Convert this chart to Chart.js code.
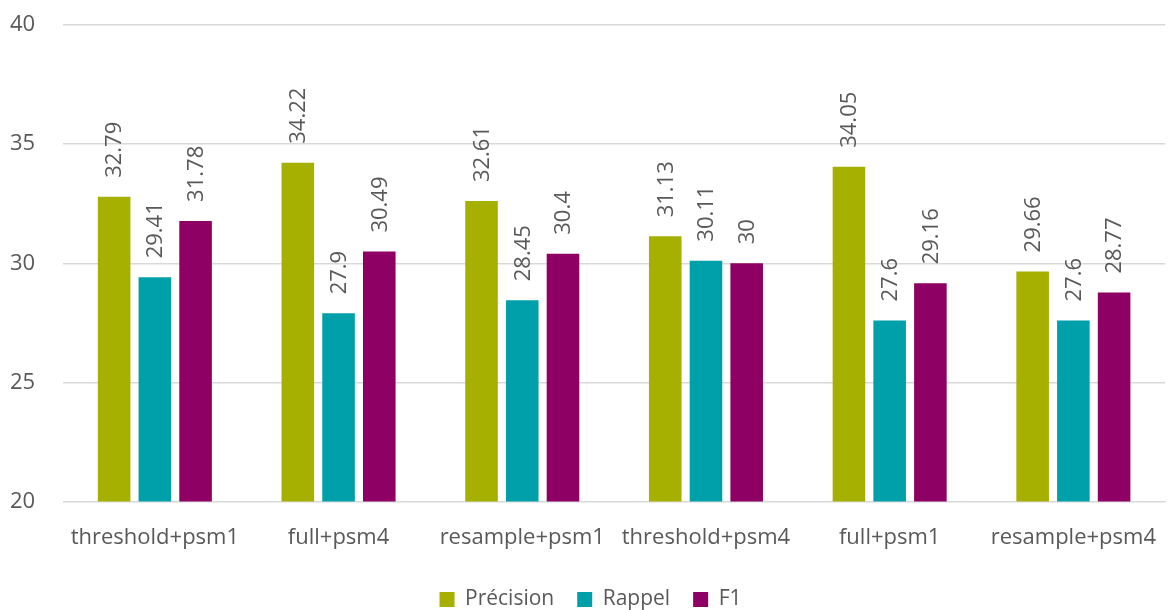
<!DOCTYPE html>
<html>
<head>
<meta charset="utf-8">
<script src="https://cdn.jsdelivr.net/npm/chart.js@4.4.0/dist/chart.umd.min.js"></script>
<style>
  html, body { margin: 0; padding: 0; background: #fff; }
  #wrap { width: 1171px; height: 610px; }
</style>
</head>
<body>
<div id="wrap"><canvas id="graphique"></canvas></div>
<script>
const categories = ['threshold+psm1', 'full+psm4', 'resample+psm1', 'threshold+psm4', 'full+psm1', 'resample+psm4'];
const precision = [32.79, 34.22, 32.61, 31.13, 34.05, 29.66];
const rappel = [29.41, 27.9, 28.45, 30.11, 27.6, 27.6];
const f1 = [31.78, 30.49, 30.4, 30, 29.16, 28.77];
const yTicks = [20, 25, 30, 35, 40];

const police = '"Open Sans", sans-serif';
const gris = '#595959';

// étiquettes verticales au-dessus des barres
const etiquettes = {
    id: 'etiquettes',
    afterDatasetsDraw(chart) {
        const ctx = chart.ctx;
        ctx.save();
        ctx.font = '22px ' + police;
        ctx.fillStyle = gris;
        ctx.textAlign = 'left';
        ctx.textBaseline = 'middle';
        chart.data.datasets.forEach(function (ds, i) {
            const meta = chart.getDatasetMeta(i);
            meta.data.forEach(function (bar, j) {
                ctx.save();
                ctx.translate(bar.x + 1, bar.y - 19);
                ctx.rotate(-Math.PI / 2);
                ctx.fillText(String(ds.data[j]), 0, 0);
                ctx.restore();
            });
        });
        ctx.restore();
    }
};

new Chart(document.getElementById('graphique').getContext('2d'), {
    type: 'bar',
    data: {
        labels: categories,
        datasets: [
            { label: 'Précision', data: precision, backgroundColor: '#a5b000' },
            { label: 'Rappel', data: rappel, backgroundColor: '#00a0aa' },
            { label: 'F1', data: f1, backgroundColor: '#8e0063' }
        ]
    },
    options: {
        responsive: true,
        maintainAspectRatio: false,
        animation: false,
        layout: { padding: { top: 25, right: 0, left: 10, bottom: -10 } },
        datasets: {
            bar: { barPercentage: 0.8, categoryPercentage: 0.665 }
        },
        scales: {
            x: {
                grid: { display: false },
                border: { color: '#d9d9d9' },
                ticks: { color: gris, font: { family: police, size: 22 }, padding: 15, maxRotation: 0, autoSkip: false }
            },
            y: {
                min: 20,
                max: 40,
                afterBuildTicks: function (axis) {
                    axis.ticks = yTicks.map(function (v) { return { value: v }; });
                },
                afterFit: function (axis) { axis.width = 53; },
                grid: { color: '#d9d9d9', lineWidth: 1.5, drawTicks: false },
                border: { display: false },
                ticks: { color: gris, font: { family: police, size: 22 }, padding: 2, crossAlign: 'far' }
            }
        },
        plugins: {
            legend: {
                position: 'bottom',
                labels: {
                    color: gris,
                    font: { family: police, size: 21 },
                    boxWidth: 15,
                    boxHeight: 15,
                    padding: 23
                }
            },
            tooltip: { enabled: false }
        }
    },
    plugins: [etiquettes]
});
</script>
</body>
</html>
